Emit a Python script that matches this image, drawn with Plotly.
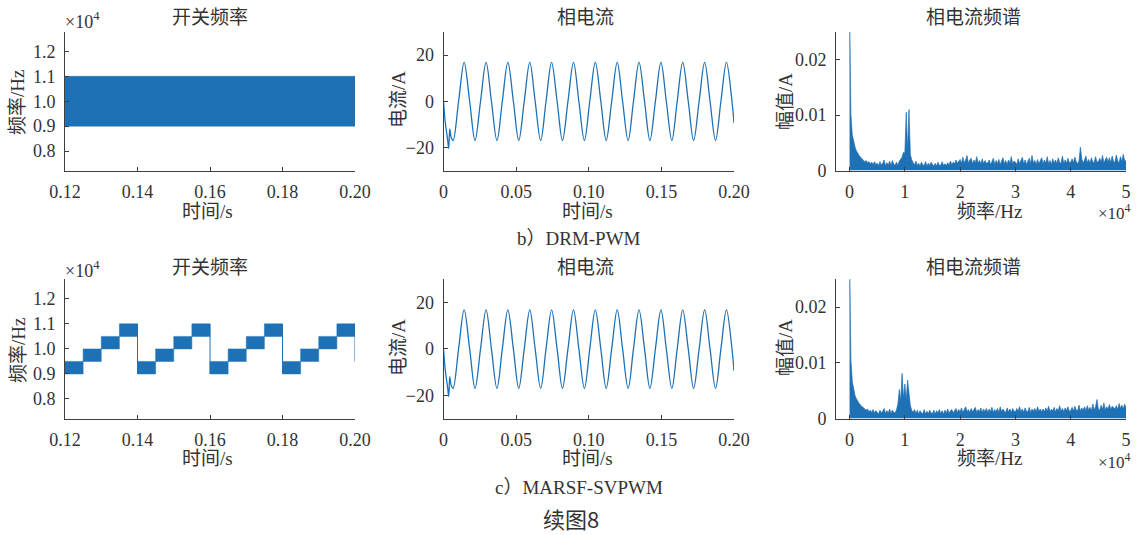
import plotly.graph_objects as go

W, H = 1138, 535

# ---------------- data ----------------
# (b) DRM-PWM switching frequency: dense toggling between 9 kHz and 11 kHz (appears as a band)
band_t = [0.12, 0.20]
band_f = [9000, 11000]

# (c) MARSF-SVPWM switching frequency: stepped bands (each step 5 ms)
step_start = [0.120, 0.125, 0.130, 0.135, 0.140, 0.145, 0.150, 0.155,
              0.160, 0.165, 0.170, 0.175, 0.180, 0.185, 0.190, 0.195]
step_end = [0.125, 0.130, 0.135, 0.140, 0.145, 0.150, 0.155, 0.160,
            0.165, 0.170, 0.175, 0.180, 0.185, 0.190, 0.195, 0.200]
step_low = [9000, 9500, 10000, 10500, 9000, 9500, 10000, 10500,
            9000, 9500, 10000, 10500, 9000, 9500, 10000, 10500]
step_high = [9500, 10000, 10500, 11000, 9500, 10000, 10500, 11000,
             9500, 10000, 10500, 11000, 9500, 10000, 10500, 11000]
drop_t = [0.14, 0.16, 0.18, 0.20]
drop_from = [11000, 11000, 11000, 11000]
drop_to = [9000, 9000, 9000, 9500]

# phase current (same for b and c)
cur_t = [0, 0.0012, 0.0028, 0.0036, 0.0043, 0.0052, 0.0066, 0.0104,
         0.0142, 0.0180, 0.0217, 0.0255,
         0.0293, 0.0330, 0.0368, 0.0405,
         0.0443, 0.0481, 0.0518, 0.0556,
         0.0594, 0.0631, 0.0669, 0.0706,
         0.0744, 0.0782, 0.0819, 0.0857,
         0.0895, 0.0932, 0.0970, 0.1007,
         0.1045, 0.1083, 0.1120, 0.1158,
         0.1196, 0.1233, 0.1271, 0.1308,
         0.1346, 0.1384, 0.1421, 0.1459,
         0.1497, 0.1534, 0.1572, 0.1609,
         0.1647, 0.1685, 0.1722, 0.1760,
         0.1798, 0.1835, 0.1873, 0.1910,
         0.1948, 0.1986, 0.2000]
cur_i = [0, -9, -16.5, -20.5, -12, -15.5, -17, 0,
         16.8, 0, -17, 0,
         16.8, 0, -17, 0,
         16.8, 0, -17, 0,
         16.8, 0, -17, 0,
         16.8, 0, -17, 0,
         16.8, 0, -17, 0,
         16.8, 0, -17, 0,
         16.8, 0, -17, 0,
         16.8, 0, -17, 0,
         16.8, 0, -17, 0,
         16.8, 0, -17, 0,
         16.8, 0, -17, 0,
         16.8, 0, -9.5]

# spectra: amplitude in units of 1e-4 A, bins every 250 Hz from 0 to 50 kHz
spec_step_hz = 250
spec_b = [300, 100, 64, 50, 42, 35, 30, 27, 24, 21, 19, 16, 18, 14, 16, 12, 15, 11, 16, 11,
          13, 9, 16, 10, 13, 19, 9, 14, 10, 17, 9, 18, 11, 10, 15, 9, 17, 20, 24, 33,
          31, 105, 36, 110, 29, 19, 14, 10, 17, 9, 13, 8, 15, 10, 9, 16, 8, 13, 9, 15,
          11, 8, 13, 8, 15, 9, 10, 16, 9, 12, 9, 14, 10, 17, 11, 15, 12, 19, 13, 18,
          20, 13, 24, 14, 19, 27, 13, 19, 22, 12, 19, 14, 25, 13, 18, 12, 21, 12, 18, 13,
          14, 19, 11, 16, 22, 11, 18, 12, 20, 11, 16, 23, 12, 18, 11, 19, 13, 25, 12, 17,
          15, 11, 21, 12, 18, 24, 12, 19, 11, 16, 22, 12, 27, 13, 18, 11, 20, 12, 17, 23,
          12, 19, 13, 25, 12, 18, 11, 21, 13, 19, 12, 23, 14, 13, 26, 12, 19, 13, 22, 14,
          15, 21, 14, 24, 16, 12, 17, 42, 21, 13, 19, 26, 14, 20, 13, 23, 15, 14, 25, 15,
          16, 22, 15, 27, 14, 20, 24, 15, 23, 14, 26, 16, 15, 28, 17, 14, 25, 16, 29, 18,
          17]
spec_c = [300, 105, 66, 50, 41, 35, 30, 27, 24, 22, 19, 18, 15, 17, 12, 15, 11, 16, 10, 14,
          11, 8, 15, 10, 13, 18, 9, 14, 10, 17, 9, 15, 11, 10, 16, 26, 52, 31, 81, 36,
          62, 33, 69, 49, 23, 15, 11, 16, 9, 15, 8, 14, 10, 9, 16, 8, 13, 9, 15, 10,
          9, 15, 8, 14, 10, 16, 9, 14, 8, 15, 10, 17, 9, 14, 16, 10, 15, 18, 11, 16,
          12, 19, 11, 17, 21, 12, 16, 11, 18, 12, 17, 20, 11, 16, 12, 19, 11, 17, 12, 18,
          11, 17, 12, 20, 11, 16, 12, 18, 11, 21, 12, 17, 13, 11, 19, 12, 17, 11, 18, 13,
          12, 18, 13, 21, 12, 17, 11, 19, 13, 12, 20, 11, 17, 13, 18, 12, 21, 13, 17, 12,
          17, 12, 19, 13, 22, 12, 17, 13, 20, 12, 18, 14, 23, 13, 18, 12, 19, 14, 21, 13,
          14, 20, 13, 22, 15, 14, 24, 13, 19, 15, 21, 14, 23, 15, 20, 14, 26, 15, 21, 34,
          17, 15, 24, 16, 28, 15, 21, 17, 25, 16, 22, 20, 17, 23, 16, 27, 18, 24, 17, 26,
          19]

# tick labels
fs_ticks = [8000, 9000, 10000, 11000, 12000]
fs_ticktext = ["0.8", "0.9", "1.0", "1.1", "1.2"]
t1_ticks = [0.12, 0.14, 0.16, 0.18, 0.20]
t1_ticktext = ["0.12", "0.14", "0.16", "0.18", "0.20"]
t2_ticks = [0, 0.05, 0.10, 0.15, 0.20]
t2_ticktext = ["0", "0.05", "0.10", "0.15", "0.20"]
i_ticks = [-20, 0, 20]
i_ticktext = ["\u221220", "0", "20"]
f_ticks = [0, 10000, 20000, 30000, 40000, 50000]
f_ticktext = ["0", "1", "2", "3", "4", "5"]
a_ticks = [0, 0.01, 0.02]
a_ticktext = ["0", "0.01", "0.02"]

# ---------------- styling ----------------
BLUE = "#1f71b5"
TXT = "#333333"
SERIF = "Liberation Serif, Noto Sans CJK SC, serif"
CJK = "Noto Sans CJK SC, sans-serif"

fig = go.Figure()

# top-left band
fig.add_trace(go.Scatter(
    x=[band_t[0], band_t[1], band_t[1], band_t[0], band_t[0]],
    y=[band_f[0], band_f[0], band_f[1], band_f[1], band_f[0]],
    fill="toself", fillcolor=BLUE, mode="lines", line=dict(color=BLUE, width=0.5),
    xaxis="x", yaxis="y", hoverinfo="skip"))

# top-middle current
fig.add_trace(go.Scatter(x=cur_t, y=cur_i, mode="lines",
                         line=dict(color=BLUE, width=1.3, shape="spline", smoothing=1.0),
                         xaxis="x2", yaxis="y2"))

# top-right spectrum
freqs_b = [k * spec_step_hz for k in range(len(spec_b))]
fig.add_trace(go.Scatter(x=freqs_b, y=[v / 10000 for v in spec_b], mode="lines",
                         fill="tozeroy", fillcolor=BLUE,
                         line=dict(color=BLUE, width=0.7), xaxis="x3", yaxis="y3"))

# bottom-left stepped bands
sx, sy = [], []
for a, b, lo, hi in zip(step_start, step_end, step_low, step_high):
    sx += [a, b, b, a, a, None]
    sy += [lo, lo, hi, hi, lo, None]
fig.add_trace(go.Scatter(x=sx, y=sy, fill="toself", fillcolor=BLUE, mode="lines",
                         line=dict(color=BLUE, width=0.5), xaxis="x4", yaxis="y4"))
dx, dy = [], []
for t, f0, f1 in zip(drop_t, drop_from, drop_to):
    dx += [t, t, None]
    dy += [f0, f1, None]
fig.add_trace(go.Scatter(x=dx, y=dy, mode="lines", line=dict(color=BLUE, width=1),
                         xaxis="x4", yaxis="y4"))

# bottom-middle current
fig.add_trace(go.Scatter(x=cur_t, y=cur_i, mode="lines",
                         line=dict(color=BLUE, width=1.3, shape="spline", smoothing=1.0),
                         xaxis="x5", yaxis="y5"))

# bottom-right spectrum
freqs_c = [k * spec_step_hz for k in range(len(spec_c))]
fig.add_trace(go.Scatter(x=freqs_c, y=[v / 10000 for v in spec_c], mode="lines",
                         fill="tozeroy", fillcolor=BLUE,
                         line=dict(color=BLUE, width=0.7), xaxis="x6", yaxis="y6"))


def px_x(p):
    return p / W


def px_y(p):
    return 1 - p / H


col_dom = [[px_x(65), px_x(355)], [px_x(443.5), px_x(734)], [px_x(836), px_x(1126)]]
row_dom = [[px_y(170.5), px_y(32)], [px_y(418.5), px_y(279.3)]]

axis_common = dict(showline=True, linecolor="#404040", linewidth=1, ticks="inside",
                   ticklen=4, tickcolor="#404040", showgrid=False, zeroline=False,
                   mirror=False, tickfont=dict(family=SERIF, size=18, color=TXT),
                   ticklabelstandoff=5, fixedrange=True, automargin=False)

layout = dict(width=W, height=H,
              margin=dict(l=0, r=0, t=0, b=0, pad=0, autoexpand=False),
              paper_bgcolor="white", plot_bgcolor="white", showlegend=False)

specs = [
    ([0.12, 0.20], t1_ticks, t1_ticktext, [7220, 12780], fs_ticks, fs_ticktext),
    ([0, 0.20], t2_ticks, t2_ticktext, [-30, 30], i_ticks, i_ticktext),
    ([-2450, 50000], f_ticks, f_ticktext, [0, 0.025], a_ticks, a_ticktext),
]
for r in range(2):
    for c in range(3):
        n = r * 3 + c + 1
        xr, xt, xtt, yr, yt, ytt = specs[c]
        xk = "xaxis" if n == 1 else f"xaxis{n}"
        yk = "yaxis" if n == 1 else f"yaxis{n}"
        layout[xk] = dict(axis_common, domain=col_dom[c], range=xr, tickvals=xt,
                          ticktext=xtt, anchor="y" if n == 1 else f"y{n}")
        layout[yk] = dict(axis_common, domain=row_dom[r], range=yr, tickvals=yt,
                          ticktext=ytt, anchor="x" if n == 1 else f"x{n}")

fig.update_layout(**layout)


def ann(text, x, y, size=19, family=SERIF, angle=0, xanchor="center", yanchor="middle"):
    fig.add_annotation(text=text, x=px_x(x), y=px_y(y), xref="paper", yref="paper",
                       showarrow=False, textangle=angle, xanchor=xanchor, yanchor=yanchor,
                       font=dict(family=family, size=size, color=TXT))


titles = ["开关频率", "相电流", "相电流频谱"]
xlabels = ["时间/s", "时间/s", "频率/Hz"]
ylabels = ["频率/Hz", "电流/A", "幅值/A"]
title_x = [210, 585, 973]
xlab_x = [207, 587, 989]
ylab_x = [18, 398, 785]
rows_title_y = [18, 267]
rows_xlab_y = [211, 458]
rows_ylab_y = [[103, 99, 102], [351, 347, 348]]

for r in range(2):
    for c in range(3):
        ann(titles[c], title_x[c], rows_title_y[r])
        ann(xlabels[c], xlab_x[c], rows_xlab_y[r])
        ann(ylabels[c], ylab_x[c], rows_ylab_y[r][c], angle=-90)
    ann("×10<sup>4</sup>", 63, [20, 269][r], size=18, xanchor="left")
    ann("×10<sup>4</sup>", 1133, [199, 448][r], size=17, xanchor="right", yanchor="top")

ann("b）DRM-PWM", 579, 238, size=19)
ann("c）MARSF-SVPWM", 579, 487, size=19)
ann("续图8", 571, 518, size=22, family=CJK)

fig.write_html("out.html", config={"responsive": False})
